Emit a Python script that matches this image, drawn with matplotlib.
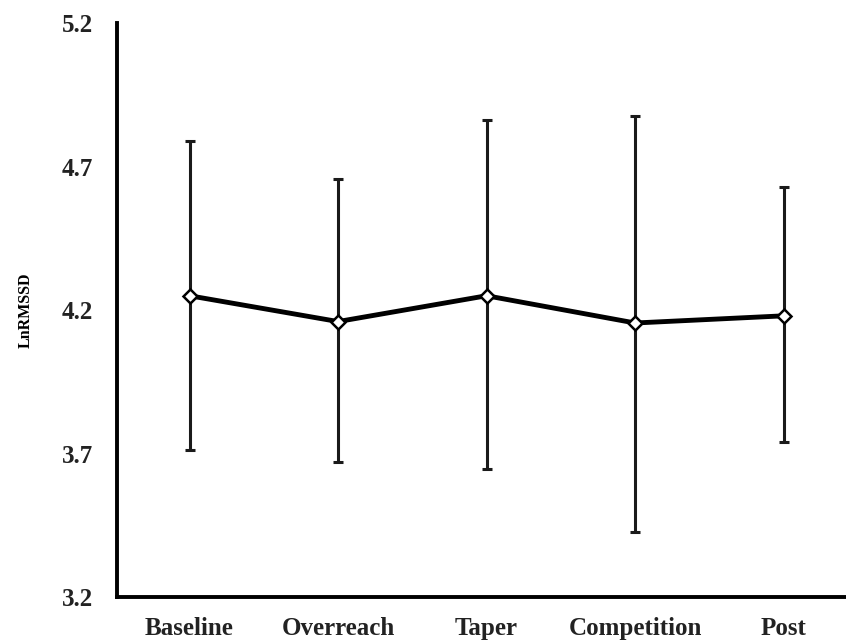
import matplotlib
matplotlib.use("Agg")
import matplotlib.pyplot as plt

phases = ["Baseline", "Overreach", "Taper", "Competition", "Post"]
means = [4.25, 4.16, 4.25, 4.155, 4.18]
upper = [4.79, 4.656, 4.862, 4.876, 4.629]
lower = [3.712, 3.670, 3.646, 3.426, 3.740]

yticks = [3.2, 3.7, 4.2, 4.7, 5.2]

plt.rcParams["font.family"] = ["Liberation Serif", "DejaVu Serif"]
plt.rcParams["font.weight"] = "bold"

fig = plt.figure(figsize=(8.46, 6.42), dpi=100)
ax = fig.add_axes([0.138, 0.070, 0.862, 0.894])

x = list(range(len(phases)))
err_low = [m - l for m, l in zip(means, lower)]
err_up = [u - m for m, u in zip(means, upper)]

ax.errorbar(x, means, yerr=[err_low, err_up], fmt="none", ecolor="#1a1a1a",
            elinewidth=2.2, capsize=3.5, capthick=2.2, zorder=2)
ax.plot(x, means, color="black", linewidth=3.5, zorder=3)
ax.plot(x, means, linestyle="none", marker="D", markersize=7.5,
        markerfacecolor="white", markeredgecolor="black", markeredgewidth=1.8, zorder=4)

ax.set_xlim(-0.49, 4.42)
ax.set_ylim(3.2, 5.2)
ax.set_yticks(yticks)
ax.set_yticklabels([f"{t:.1f}" for t in yticks])
ax.set_xticks(x)
ax.set_xticklabels(phases)
ax.tick_params(length=0, labelsize=18, colors="#222222")
ax.tick_params(axis="y", pad=17)
ax.tick_params(axis="x", pad=14)
ax.set_ylabel("LnRMSSD", fontsize=11.5, fontweight="bold", labelpad=20)

for side in ["top", "right"]:
    ax.spines[side].set_visible(False)
for side in ["left", "bottom"]:
    ax.spines[side].set_linewidth(2.8)

fig.savefig("out.png", dpi=100)
